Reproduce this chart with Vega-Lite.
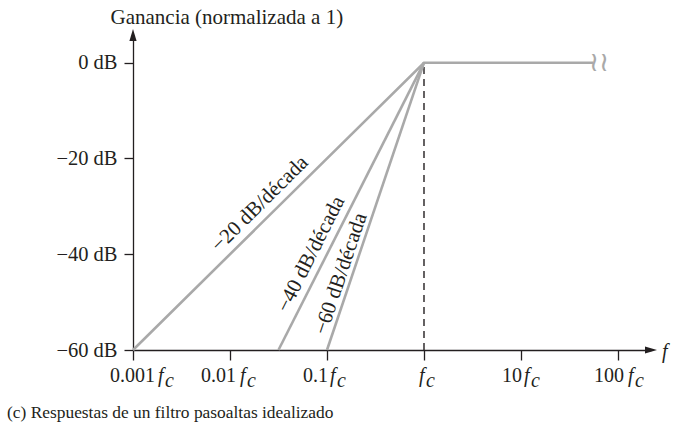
{
  "$schema": "https://vega.github.io/schema/vega-lite/v6.json",
  "width": 518,
  "height": 315,
  "autosize": {"type": "none"},
  "padding": {"left": 133, "top": 35, "right": 22, "bottom": 77},
  "background": "white",
  "config": {
    "view": {"stroke": null},
    "font": "Liberation Serif",
    "text": {"font": "Liberation Serif", "fontSize": 20, "color": "#231f20"}
  },
  "title": {
    "text": "(c) Respuestas de un filtro pasoaltas idealizado",
    "orient": "bottom",
    "anchor": "start",
    "frame": "group",
    "dx": -126,
    "offset": 27,
    "font": "Liberation Serif",
    "fontSize": 17.4,
    "fontWeight": "normal",
    "color": "#231f20",
    "baseline": "alphabetic"
  },
  "datasets": {
    "lines": [
      {"series": "a", "x": 0.001, "y": -60},
      {"series": "a", "x": 1, "y": 0},
      {"series": "a", "x": 55.2, "y": 0},
      {"series": "b", "x": 0.0316, "y": -60},
      {"series": "b", "x": 1, "y": 0},
      {"series": "c", "x": 0.1, "y": -60},
      {"series": "c", "x": 1, "y": 0}
    ],
    "dashed": [{"x": 1, "y": -60, "y2": 0}],
    "labels": [
      {"x": 0.0204, "y": -29.5, "label": "−20 dB/década"},
      {"x": 0.0684, "y": -40.0, "label": "−40 dB/década"},
      {"x": 0.1393, "y": -44.1, "label": "−60 dB/década"}
    ],
    "xl": [
      {"x": 0.001, "y": -60, "num": "0.001"},
      {"x": 0.01, "y": -60, "num": "0.01"},
      {"x": 0.1, "y": -60, "num": "0.1"},
      {"x": 1, "y": -60, "num": ""},
      {"x": 10, "y": -60, "num": "10"},
      {"x": 100, "y": -60, "num": "100"}
    ],
    "arrows": [
      {"x": 0.001, "y": 5.785, "dir": "up"},
      {"x": 218.9, "y": -60, "dir": "right"}
    ],
    "squiggle": [{"x": 63.7, "y": 0}]
  },
  "encoding": {
    "x": {
      "field": "x",
      "type": "quantitative",
      "scale": {"type": "log", "domain": [0.001, 218.9], "nice": false},
      "axis": {
        "values": [0.001, 0.01, 0.1, 1, 10, 100],
        "labels": false,
        "title": null,
        "grid": false,
        "tickSize": 10,
        "tickColor": "#231f20",
        "tickWidth": 1.3,
        "domainColor": "#231f20",
        "domainWidth": 1.3
      }
    },
    "y": {
      "field": "y",
      "type": "quantitative",
      "scale": {"domain": [-60, 5.785], "nice": false, "zero": false},
      "axis": {
        "values": [0, -20, -40, -60],
        "labelExpr": "datum.value == 0 ? '0 dB' : '−' + abs(datum.value) + ' dB'",
        "labelFont": "Liberation Serif",
        "labelFontSize": 20.5,
        "labelColor": "#231f20",
        "labelPadding": 7,
        "labelOverlap": false,
        "labelBaseline": "middle",
        "tickSize": 9,
        "tickColor": "#231f20",
        "tickWidth": 1.3,
        "domainColor": "#231f20",
        "domainWidth": 1.3,
        "grid": false,
        "title": "Ganancia (normalizada a 1)",
        "titleFont": "Liberation Serif",
        "titleFontSize": 21,
        "titleFontWeight": "normal",
        "titleColor": "#231f20",
        "titleAngle": 0,
        "titleAlign": "left",
        "titleBaseline": "alphabetic",
        "titleX": -23,
        "titleY": -12
      }
    }
  },
  "layer": [
    {
      "data": {"name": "dashed"},
      "mark": {"type": "rule", "color": "#231f20", "strokeWidth": 1.4, "strokeDash": [7, 5]},
      "encoding": {"y2": {"field": "y2"}}
    },
    {
      "data": {"name": "lines"},
      "mark": {"type": "line", "color": "#a9a9a9", "strokeWidth": 2.6},
      "encoding": {"detail": {"field": "series"}}
    },
    {
      "data": {"name": "squiggle"},
      "mark": {"type": "text", "text": "≀≀", "color": "#a9a9a9", "fontSize": 27, "align": "center", "baseline": "middle", "font": "DejaVu Serif"},
      "encoding": {}
    },
    {
      "data": {"name": "labels"},
      "transform": [{"filter": "datum.label == '−20 dB/década'"}],
      "mark": {"type": "text", "angle": 315.2, "align": "center", "baseline": "middle", "fontSize": 21},
      "encoding": {"text": {"field": "label"}}
    },
    {
      "data": {"name": "labels"},
      "transform": [{"filter": "datum.label == '−40 dB/década'"}],
      "mark": {"type": "text", "angle": 296.7, "align": "center", "baseline": "middle", "fontSize": 21},
      "encoding": {"text": {"field": "label"}}
    },
    {
      "data": {"name": "labels"},
      "transform": [{"filter": "datum.label == '−60 dB/década'"}],
      "mark": {"type": "text", "angle": 288.6, "align": "center", "baseline": "middle", "fontSize": 21},
      "encoding": {"text": {"field": "label"}}
    },
    {
      "data": {"name": "xl"},
      "transform": [{"filter": "datum.x == 0.001"}],
      "layer": [
        {"mark": {"type": "text", "align": "right", "baseline": "alphabetic", "dx": 22, "dy": 32}, "encoding": {"text": {"field": "num"}}},
        {"mark": {"type": "text", "align": "left", "baseline": "alphabetic", "dx": 25, "dy": 32, "fontStyle": "italic", "text": "f"}, "encoding": {}},
        {"mark": {"type": "text", "align": "left", "baseline": "alphabetic", "dx": 32, "dy": 37, "fontStyle": "italic", "text": "c"}, "encoding": {}}
      ]
    },
    {
      "data": {"name": "xl"},
      "transform": [{"filter": {"field": "x", "oneOf": [0.01, 100]}}],
      "layer": [
        {"mark": {"type": "text", "align": "right", "baseline": "alphabetic", "dx": 6, "dy": 32}, "encoding": {"text": {"field": "num"}}},
        {"mark": {"type": "text", "align": "left", "baseline": "alphabetic", "dx": 10, "dy": 32, "fontStyle": "italic", "text": "f"}, "encoding": {}},
        {"mark": {"type": "text", "align": "left", "baseline": "alphabetic", "dx": 17, "dy": 37, "fontStyle": "italic", "text": "c"}, "encoding": {}}
      ]
    },
    {
      "data": {"name": "xl"},
      "transform": [{"filter": {"field": "x", "oneOf": [0.1, 10]}}],
      "layer": [
        {"mark": {"type": "text", "align": "right", "baseline": "alphabetic", "dx": 1, "dy": 32}, "encoding": {"text": {"field": "num"}}},
        {"mark": {"type": "text", "align": "left", "baseline": "alphabetic", "dx": 3, "dy": 32, "fontStyle": "italic", "text": "f"}, "encoding": {}},
        {"mark": {"type": "text", "align": "left", "baseline": "alphabetic", "dx": 10, "dy": 37, "fontStyle": "italic", "text": "c"}, "encoding": {}}
      ]
    },
    {
      "data": {"name": "xl"},
      "transform": [{"filter": "datum.x == 1"}],
      "layer": [
        {"mark": {"type": "text", "align": "left", "baseline": "alphabetic", "dx": -5, "dy": 32, "fontStyle": "italic", "text": "f"}, "encoding": {}},
        {"mark": {"type": "text", "align": "left", "baseline": "alphabetic", "dx": 2, "dy": 37, "fontStyle": "italic", "text": "c"}, "encoding": {}}
      ]
    },
    {
      "data": {"name": "arrows"},
      "transform": [{"filter": "datum.dir == 'up'"}],
      "mark": {"type": "point", "shape": "M0,-1L0.6,1L-0.6,1Z", "size": 144, "filled": true, "color": "#231f20", "opacity": 1, "strokeWidth": 0}
    },
    {
      "data": {"name": "arrows"},
      "transform": [{"filter": "datum.dir == 'right'"}],
      "layer": [
        {"mark": {"type": "point", "shape": "M-1,-0.6L1,0L-1,0.6Z", "size": 144, "filled": true, "color": "#231f20", "opacity": 1, "strokeWidth": 0}},
        {"mark": {"type": "text", "align": "left", "baseline": "alphabetic", "dx": 11, "dy": 8, "fontStyle": "italic", "text": "f"}, "encoding": {}}
      ]
    }
  ]
}
